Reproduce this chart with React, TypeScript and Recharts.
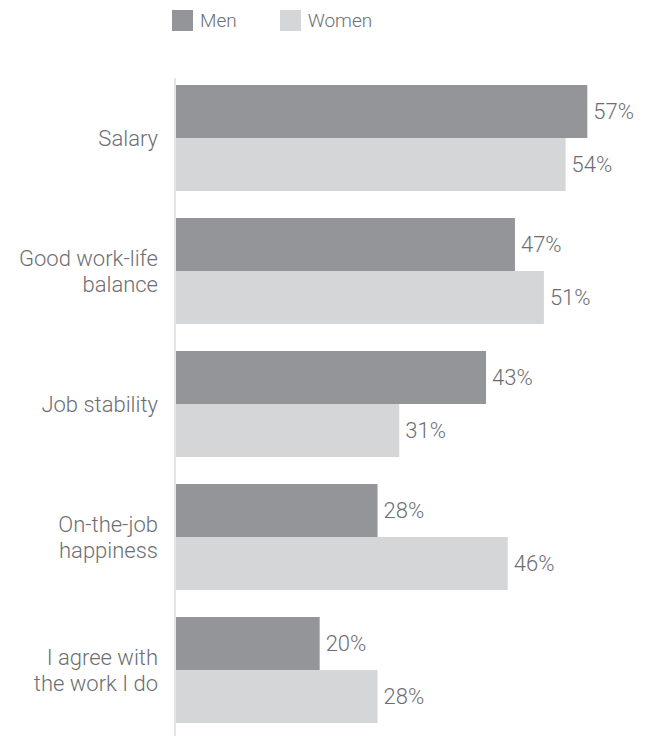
import React from "react";
import { BarChart, Bar, XAxis, YAxis, LabelList, Legend } from "recharts";

const categories = [
  "Salary",
  "Good work-life\nbalance",
  "Job stability",
  "On-the-job\nhappiness",
  "I agree with\nthe work I do",
];
const men = [57, 47, 43, 28, 20];
const women = [54, 51, 31, 46, 28];
const seriesNames = ["Men", "Women"];
const colors = ["#939598", "#d5d6d8"];

const data = categories.map((name, i) => ({ name, men: men[i], women: women[i] }));

const FONT = "Roboto, 'Open Sans', sans-serif";
const TEXT = "#6d6e71";

const CategoryTick = (props: any) => {
  const { x, y, payload } = props;
  const lines = String(payload.value).split("\n");
  const lh = 26;
  const startDy = -((lines.length - 1) / 2) * lh;
  return (
    <text x={x} y={y} textAnchor="end" fill={TEXT} fontSize={22} fontWeight={300} fontFamily={FONT}>
      {lines.map((l, i) => (
        <tspan key={i} x={x} dy={i === 0 ? startDy + 8 : lh}>
          {l}
        </tspan>
      ))}
    </text>
  );
};

const LegendContent = () => (
  <div style={{ display: "flex", alignItems: "center", fontFamily: FONT, fontSize: 19, fontWeight: 300, color: TEXT, height: 22 }}>
    {seriesNames.map((n, i) => (
      <div key={n} style={{ display: "flex", alignItems: "center", marginRight: i === 0 ? 43 : 0 }}>
        <div style={{ width: 21, height: 21, background: colors[i], marginRight: 7 }} />
        <span>{n}</span>
      </div>
    ))}
  </div>
);

export default function App() {
  return (
    <div>
      <style>{`body{margin:0}`}</style>
      <BarChart
        width={652}
        height={736}
        data={data}
        layout="vertical"
        margin={{ top: 56, right: 43, bottom: 0, left: 0 }}
        barGap={0}
      >
        <Legend
          verticalAlign="top"
          align="left"
          content={<LegendContent />}
          wrapperStyle={{ top: 9, left: 172, width: "auto", height: 22 }}
        />
        <XAxis type="number" domain={[0, 60]} hide />
        <YAxis
          type="category"
          dataKey="name"
          width={175}
          axisLine={{ stroke: "#e4e5e7", strokeWidth: 2 }}
          tickLine={false}
          tickSize={6}
          tickMargin={11}
          tick={<CategoryTick />}
          padding={{ top: -7, bottom: 0 }}
          interval={0}
        />
        <Bar dataKey="men" name="Men" fill={colors[0]} barSize={53} isAnimationActive={false}>
          <LabelList dataKey="men" position="right" offset={6} formatter={(v: any) => `${v}%`} fill={TEXT} fontSize={22} fontWeight={300} fontFamily={FONT} />
        </Bar>
        <Bar dataKey="women" name="Women" fill={colors[1]} barSize={53} isAnimationActive={false}>
          <LabelList dataKey="women" position="right" offset={6} formatter={(v: any) => `${v}%`} fill={TEXT} fontSize={22} fontWeight={300} fontFamily={FONT} />
        </Bar>
      </BarChart>
    </div>
  );
}
